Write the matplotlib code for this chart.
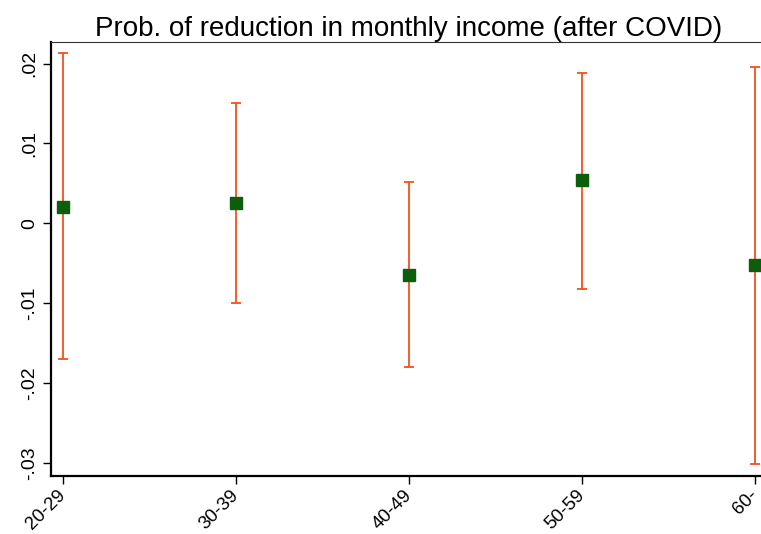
import matplotlib.pyplot as plt

# Age groups and point estimates with 95% CI bounds
groups = ["20-29", "30-39", "40-49", "50-59", "60-"]
coef = [0.00204, 0.00259, -0.00641, 0.00538, -0.00516]
ci_low = [-0.01704, -0.00996, -0.0180, -0.00816, -0.0301]
ci_high = [0.02134, 0.01509, 0.00513, 0.01888, 0.01963]

yticks = [-0.03, -0.02, -0.01, 0.0, 0.01, 0.02]
ytick_labels = ["-.03", "-.02", "-.01", "0", ".01", ".02"]

plt.rcParams["font.family"] = ["Liberation Sans", "DejaVu Sans"]

fig = plt.figure(figsize=(7.61, 5.34), dpi=100)
ax = fig.add_axes([0.067, 0.1086, 0.941, 0.8134])

x = list(range(len(groups)))
err_lo = [c - lo for c, lo in zip(coef, ci_low)]
err_hi = [hi - c for c, hi in zip(coef, ci_high)]

ax.errorbar(x, coef, yerr=[err_lo, err_hi], fmt="none",
            ecolor="#f4511e", elinewidth=1.3, capsize=3.6, capthick=1.3,
            zorder=2)
ax.plot(x, coef, linestyle="none", marker="s", markersize=8.5,
        color="#0b5e0b", markeredgecolor="#0b5e0b", zorder=3)

ax.set_xlim(-0.07, 4.07)
ax.set_ylim(-0.03163, 0.02275)

ax.set_xticks(x)
ax.set_xticklabels(groups, rotation=45, ha="right", va="center",
                   rotation_mode="anchor", fontsize=13.5)
ax.set_yticks(yticks)
ax.set_yticklabels(ytick_labels, rotation=90, va="center", fontsize=14)
ax.tick_params(axis="both", direction="out", length=6, width=1,
               color="black", pad=3)
ax.tick_params(axis="x", pad=6)

for side in ("left", "bottom"):
    ax.spines[side].set_linewidth(1.6)
    ax.spines[side].set_color("black")
for side in ("top", "right"):
    ax.spines[side].set_linewidth(0.8)
    ax.spines[side].set_color("#333333")

ax.set_title("Prob. of reduction in monthly income (after COVID)",
             fontsize=20, pad=3)

fig.savefig("out.png", dpi=100)
